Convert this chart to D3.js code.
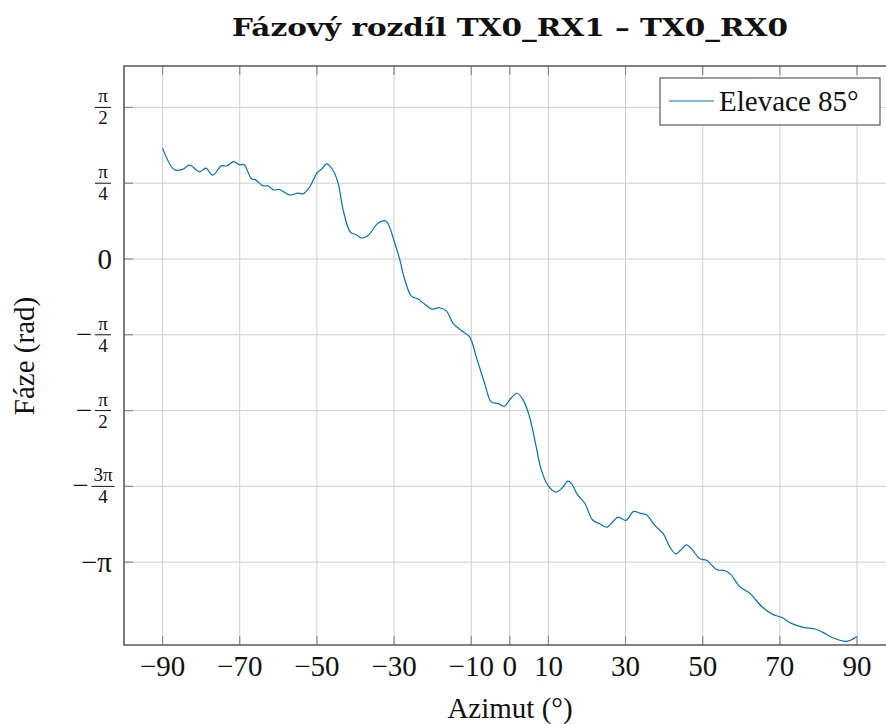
<!DOCTYPE html>
<html>
<head>
<meta charset="utf-8">
<script src="https://cdn.jsdelivr.net/npm/d3@7"></script>
<style>
body{margin:0;background:#fff;}
text{font-family:"Liberation Serif","DejaVu Serif",serif;fill:#111;}
</style>
</head>
<body>
<svg id="chart" width="886" height="724"></svg>
<script>
// azimut (deg) and phase difference (rad)
var azimut = [-90,-86.9,-84.7,-83.0,-80.4,-78.8,-77.0,-74.8,-73.3,-71.6,-70.0,-68.9,-67.0,-65.9,-64.0,-62.7,-61.2,-59.7,-57.1,-54.9,-53.6,-51.9,-50.0,-48.8,-47.4,-45.8,-44.5,-43.2,-41.3,-39.8,-38.5,-36.8,-34.2,-32.4,-31.6,-29.8,-28.5,-27.2,-25.5,-23.8,-22.1,-20.1,-18.2,-16.4,-14.7,-12.1,-10.4,-8.7,-6.5,-4.8,-3.0,-1.4,0.2,1.9,3.3,5.0,6.5,8.2,9.9,11.9,13.4,15.1,16.0,17.5,19.5,21.4,23.3,25.2,26.8,28.1,30.1,32.1,33.7,35.4,37.6,39.8,41.5,43.0,44.2,45.8,47.1,49.3,51.0,53.7,55.6,57.2,59.6,62.2,65.5,68.3,70.4,73.0,76.1,79.1,81.2,83.8,87.3,89.9];
var phase = [1.149,0.924,0.931,0.973,0.903,0.941,0.869,0.965,0.965,1.010,0.976,0.979,0.834,0.820,0.758,0.758,0.716,0.720,0.664,0.682,0.675,0.744,0.890,0.931,0.986,0.917,0.786,0.509,0.277,0.252,0.218,0.242,0.370,0.398,0.370,0.163,-0.010,-0.218,-0.384,-0.415,-0.467,-0.519,-0.505,-0.540,-0.668,-0.754,-0.806,-1.014,-1.290,-1.481,-1.498,-1.526,-1.446,-1.391,-1.450,-1.619,-1.879,-2.190,-2.346,-2.415,-2.380,-2.301,-2.328,-2.440,-2.536,-2.702,-2.744,-2.779,-2.717,-2.675,-2.709,-2.616,-2.634,-2.650,-2.761,-2.848,-2.986,-3.055,-3.021,-2.962,-3.004,-3.107,-3.122,-3.220,-3.228,-3.266,-3.395,-3.464,-3.609,-3.685,-3.713,-3.776,-3.817,-3.834,-3.869,-3.927,-3.962,-3.914];
var xTicks = [-90,-70,-50,-30,-10,0,10,30,50,70,90];
var yTicks = [Math.PI/2, Math.PI/4, 0, -Math.PI/4, -Math.PI/2, -3*Math.PI/4, -Math.PI];
var yTickLabels = [{s:'',n:'π',d:'2'},{s:'',n:'π',d:'4'},{t:'0'},{s:'−',n:'π',d:'4'},{s:'−',n:'π',d:'2'},{s:'−',n:'3π',d:'4'},{t:'−π'}];

var svg = d3.select('#chart');
var m = {t:66,l:124,b:645};

var x = d3.scaleLinear().domain([-100,100]).range([m.l,895.6]);
var y = d3.scaleLinear().domain([-4,2]).range([m.b,m.t]);

var gridCol = '#cfcfcf', axisCol = '#5a5a5a';

// grid
svg.append('g').selectAll('line').data(xTicks).enter().append('line')
	.attr('x1',function(d){return x(d)}).attr('x2',function(d){return x(d)})
	.attr('y1',m.t).attr('y2',m.b)
	.style('stroke',gridCol).style('stroke-width',1);
svg.append('g').selectAll('line').data(yTicks).enter().append('line')
	.attr('y1',function(d){return y(d)}).attr('y2',function(d){return y(d)})
	.attr('x1',m.l).attr('x2',886)
	.style('stroke',gridCol).style('stroke-width',1);

// inner tick marks
var tl = 9;
svg.append('g').selectAll('line').data(xTicks).enter().append('line')
	.attr('x1',function(d){return x(d)}).attr('x2',function(d){return x(d)})
	.attr('y1',m.b).attr('y2',m.b-tl)
	.style('stroke','#8a8a8a').style('stroke-width',1.2);
svg.append('g').selectAll('line').data(xTicks).enter().append('line')
	.attr('x1',function(d){return x(d)}).attr('x2',function(d){return x(d)})
	.attr('y1',m.t).attr('y2',m.t+tl)
	.style('stroke','#8a8a8a').style('stroke-width',1.2);
svg.append('g').selectAll('line').data(yTicks).enter().append('line')
	.attr('y1',function(d){return y(d)}).attr('y2',function(d){return y(d)})
	.attr('x1',m.l).attr('x2',m.l+tl)
	.style('stroke','#8a8a8a').style('stroke-width',1.2);

// frame
svg.append('path')
	.attr('d','M886,'+m.t+'H'+m.l+'V'+m.b+'H886')
	.style('fill','none').style('stroke',axisCol).style('stroke-width',1.6);

// x tick labels
svg.append('g').selectAll('text').data(xTicks).enter().append('text')
	.attr('x',function(d){return x(d)}).attr('y',676)
	.attr('text-anchor','middle').style('font-size','29px')
	.text(function(d){return d<0?'−'+Math.abs(d):d});

// y tick labels (fractions)
var yl = svg.append('g');
yTicks.forEach(function(v,i){
	var lab = yTickLabels[i], yy = y(v), cx = 103;
	if(lab.t){
		yl.append('text').attr('x',112).attr('y',yy+10).attr('text-anchor','end')
			.style('font-size','29px').text(lab.t);
		return;
	}
	var bw = lab.n.length>1?23:16;
	yl.append('text').attr('x',cx).attr('y',yy-5).attr('text-anchor','middle')
		.style('font-size','19px').text(lab.n);
	yl.append('line').attr('x1',cx-bw/2).attr('x2',cx+bw/2).attr('y1',yy).attr('y2',yy)
		.style('stroke','#111').style('stroke-width',1);
	yl.append('text').attr('x',cx).attr('y',yy+17).attr('text-anchor','middle')
		.style('font-size','19px').text(lab.d);
	if(lab.s){
		yl.append('text').attr('x',cx-bw/2-3).attr('y',yy+9).attr('text-anchor','end')
			.style('font-size','29px').text(lab.s);
	}
});

// data line
var line = d3.line()
	.x(function(d){return x(d[0])})
	.y(function(d){return y(d[1])})
	.curve(d3.curveCatmullRom);
svg.append('path').datum(d3.zip(azimut,phase))
	.attr('d',line)
	.style('fill','none').style('stroke','#0072bd').style('stroke-width',1.2);

// legend
svg.append('rect').attr('x',660).attr('y',78).attr('width',220).attr('height',47)
	.style('fill','#fff').style('stroke',axisCol).style('stroke-width',1.2);
svg.append('line').attr('x1',669).attr('x2',714).attr('y1',101).attr('y2',101)
	.style('stroke','#0072bd').style('stroke-width',1.2);
svg.append('text').attr('x',719).attr('y',111).style('font-size','29px').text('Elevace 85°');

// titles
svg.append('text').attr('x',510).attr('y',36).attr('text-anchor','middle')
	.attr('textLength',556).attr('lengthAdjust','spacingAndGlyphs')
	.style('font-family','"DejaVu Serif",serif')
	.style('font-size','25px').style('font-weight','bold').text('Fázový rozdíl TX0_RX1 – TX0_RX0');
svg.append('text').attr('x',510).attr('y',718).attr('text-anchor','middle')
	.style('font-size','29px').text('Azimut (°)');
svg.append('text').attr('transform','translate(34,356) rotate(-90)').attr('text-anchor','middle')
	.style('font-size','29px').text('Fáze (rad)');
</script>
</body>
</html>
